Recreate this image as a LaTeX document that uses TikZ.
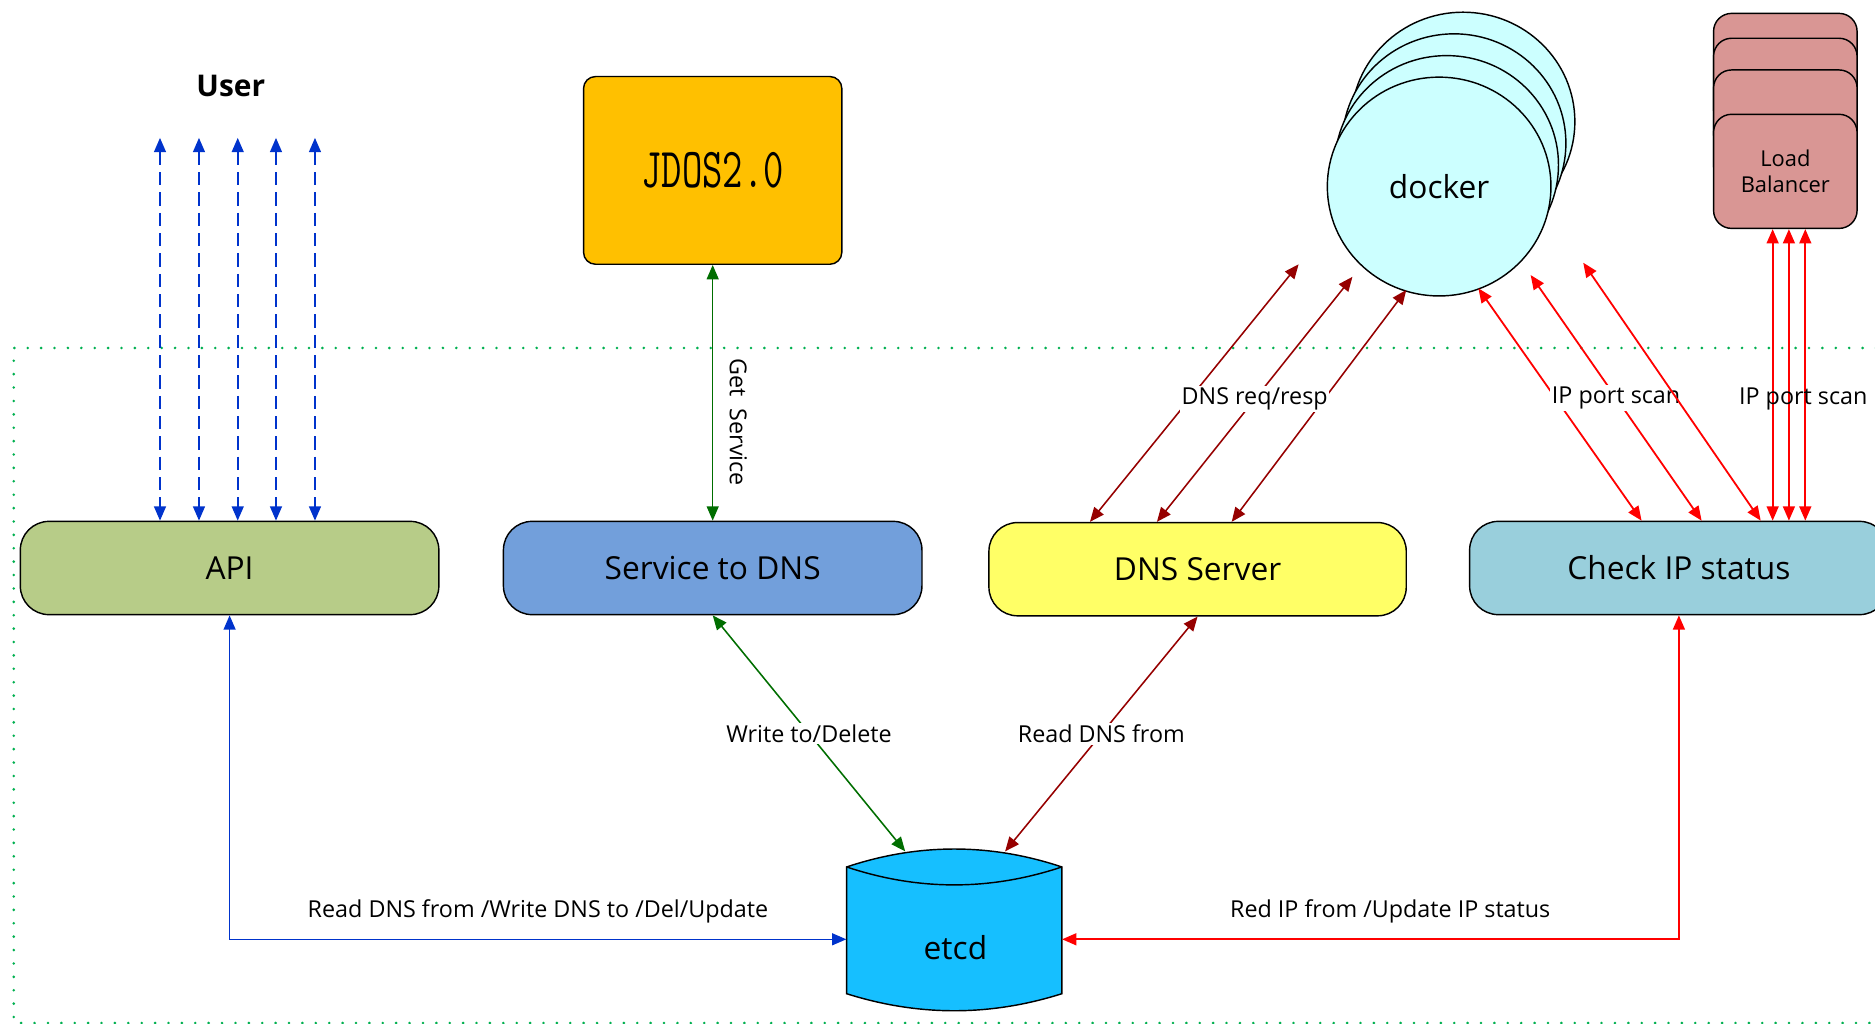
\documentclass[tikz,border=0pt]{standalone}
\usepackage{fontspec}
\setmainfont{Open Sans}
\usetikzlibrary{arrows.meta,shapes.geometric,calc}
\definecolor{apicol}{RGB}{183,204,136}
\definecolor{s2dcol}{RGB}{114,159,219}
\definecolor{dnscol}{RGB}{255,255,102}
\definecolor{chkcol}{RGB}{153,207,220}
\definecolor{jdoscol}{RGB}{255,192,0}
\definecolor{dockcol}{RGB}{204,255,255}
\definecolor{lbcol}{RGB}{217,150,148}
\definecolor{etcdcol}{RGB}{22,191,255}
\definecolor{ublue}{RGB}{0,51,204}
\definecolor{dgreen}{RGB}{0,110,0}
\definecolor{dred}{RGB}{150,0,0}
\definecolor{bred}{RGB}{255,0,0}
\definecolor{dotgreen}{RGB}{0,176,80}
\begin{document}
\begin{tikzpicture}[x=1pt,y=-1pt,
  box/.style={draw=black, line width=1.2pt, rounded corners=24, minimum width=350, minimum height=78, inner sep=0, font=\fontsize{26.5}{30}\selectfont},
  lbl/.style={font=\fontsize{19.5}{22}\selectfont, inner sep=1.5, text=black},
  conn/.style={line width=1.3pt, {Triangle[length=12pt,width=10pt]}-{Triangle[length=12pt,width=10pt]}},
  bluedash/.style={conn, ublue, line width=1.4pt, dash pattern=on 11pt off 6pt},
  blueconn/.style={conn, ublue},
  greenconn/.style={conn, dgreen},
  dredconn/.style={conn, dred},
  redconn/.style={conn, bred, line width=1.5pt},
  dock/.style={ellipse, draw=black, line width=1.2pt, fill=dockcol, minimum width=187, minimum height=183, inner sep=0},
  lbbox/.style={draw=black, line width=1.2pt, rounded corners=15, fill=lbcol, minimum width=120, minimum height=95.4, inner sep=0},
  dotframe/.style={dotgreen, line width=2.4pt, line cap=round, dash pattern=on 0pt off 11.2pt}
]
\useasboundingbox (0,0) rectangle (1568,856);
\fill[white] (0,0) rectangle (1568,856);

% dotted boundary
\draw[dotframe] (1580,291) -- (11.5,291) -- (11.5,855.5) -- (1580,855.5);

% boxes
\node[box, fill=apicol] (api) at (192,475) {API};
\node[box, fill=s2dcol] (s2d) at (596,475) {Service to DNS};
\node[box, fill=dnscol, minimum width=349] (dns) at (1001.5,476) {DNS Server};
\node[box, fill=chkcol] (chk) at (1404,475) {Check IP status};
\node[draw=black, line width=1.2pt, rounded corners=10, fill=jdoscol, minimum width=216, minimum height=157, inner sep=0] (jdos) at (596,142.5) {\scalebox{1}[1.43]{\ttfamily\fontsize{33}{33}\selectfont JDOS2.0}};
\node[font=\bfseries\fontsize{25}{28}\selectfont] (user) at (193,72) {User};

% docker stack
\node[dock] (dk4) at (1223.5,101.7) {};
\node[dock] (dk3) at (1216,119.8) {};
\node[dock] (dk2) at (1209.8,138) {};
\node[dock, font=\fontsize{26.5}{30}\selectfont] (docker) at (1203.5,156) {docker};

% load balancer stack
\node[lbbox] (lb3) at (1493,58.9) {};
\node[lbbox] (lb2) at (1493,79.7) {};
\node[lbbox] (lb1) at (1493,106.2) {};
\node[lbbox, align=center, font=\fontsize{18.3}{22}\selectfont] (lb) at (1493,143.3) {Load\\Balancer};

% etcd
\draw[line width=1.2pt, fill=etcdcol] (708,725) .. controls (768,705) and (828,705) .. (888,725) -- (888,831) .. controls (828,850) and (768,850) .. (708,831) -- cycle;
\draw[line width=1.2pt] (708,725) .. controls (768,745) and (828,745) .. (888,725);
\node[minimum width=180, minimum height=91, inner sep=0] (etcd) at (798,785.5) {};
\node[font=\fontsize{26.5}{30}\selectfont, inner sep=0] (etcdtxt) at (799,792.5) {etcd};
\coordinate (et1) at (757,712);
\coordinate (et2) at (840.5,712);

% user arrows
\foreach \i/\x in {1/133.8,2/166.4,3/198.8,4/230.8,5/263.4}{
  \coordinate (u\i) at (\x,115.3);
  \draw[bluedash] (u\i) -- (u\i |- api.north);
}

% JDOS <-> Service to DNS
\draw[greenconn] (jdos.south) -- (s2d.north);
\node[lbl, rotate=-90] (gs) at ($(jdos.south)!0.615!(s2d.north)+(21.4,0)$) {Get\ \ Service};

% Service to DNS <-> etcd
\draw[greenconn] (s2d.south) -- (et1) node[lbl, midway, fill=white] {Write to/Delete};
% DNS server <-> etcd
\draw[dredconn] (dns.south) -- (et2) node[lbl, midway, fill=white] {Read DNS from};

% API <-> etcd
\draw[blueconn] (api.south) |- (etcd.west) node[lbl, pos=0.75, yshift=23] {Read DNS from /Write DNS to /Del/Update};
% Check IP <-> etcd
\draw[redconn] (chk.south) |- (etcd.east) node[lbl, pos=0.734, yshift=23] {Red IP from /Update IP status};

% DNS req/resp
\coordinate (d1) at (1086,221);
\coordinate (d2) at (1131,231.5);
\coordinate (d3) at (1176,242.5);
\draw[dredconn] ([xshift=-90]dns.north) -- (d1);
\draw[dredconn] ([xshift=28.5]dns.north) -- (d3);
\draw[dredconn] ([xshift=-34]dns.north) -- (d2) node[lbl, midway, fill=white] {DNS req/resp};

% IP port scan to docker
\coordinate (p1) at (1236.3,241.1);
\coordinate (p2) at (1280,230);
\coordinate (p3) at (1324,219.7);
\draw[redconn] ([xshift=-31.2]chk.north) -- (p1);
\draw[redconn] ([xshift=19]chk.north) -- (p2) node[lbl, midway, fill=white] {IP port scan};
\draw[redconn] ([xshift=68.4]chk.north) -- (p3);

% load balancer <-> check IP
\coordinate (v1) at ([xshift=-10.6]lb.south);
\coordinate (v2) at ([xshift=3]lb.south);
\coordinate (v3) at ([xshift=16.7]lb.south);
\draw[redconn] (v1) -- (v1 |- chk.north);
\draw[redconn] (v2) -- (v2 |- chk.north);
\draw[redconn] (v3) -- (v3 |- chk.north) node[lbl, pos=0.584, xshift=-1.7] {IP port scan};
\end{tikzpicture}
\end{document}
